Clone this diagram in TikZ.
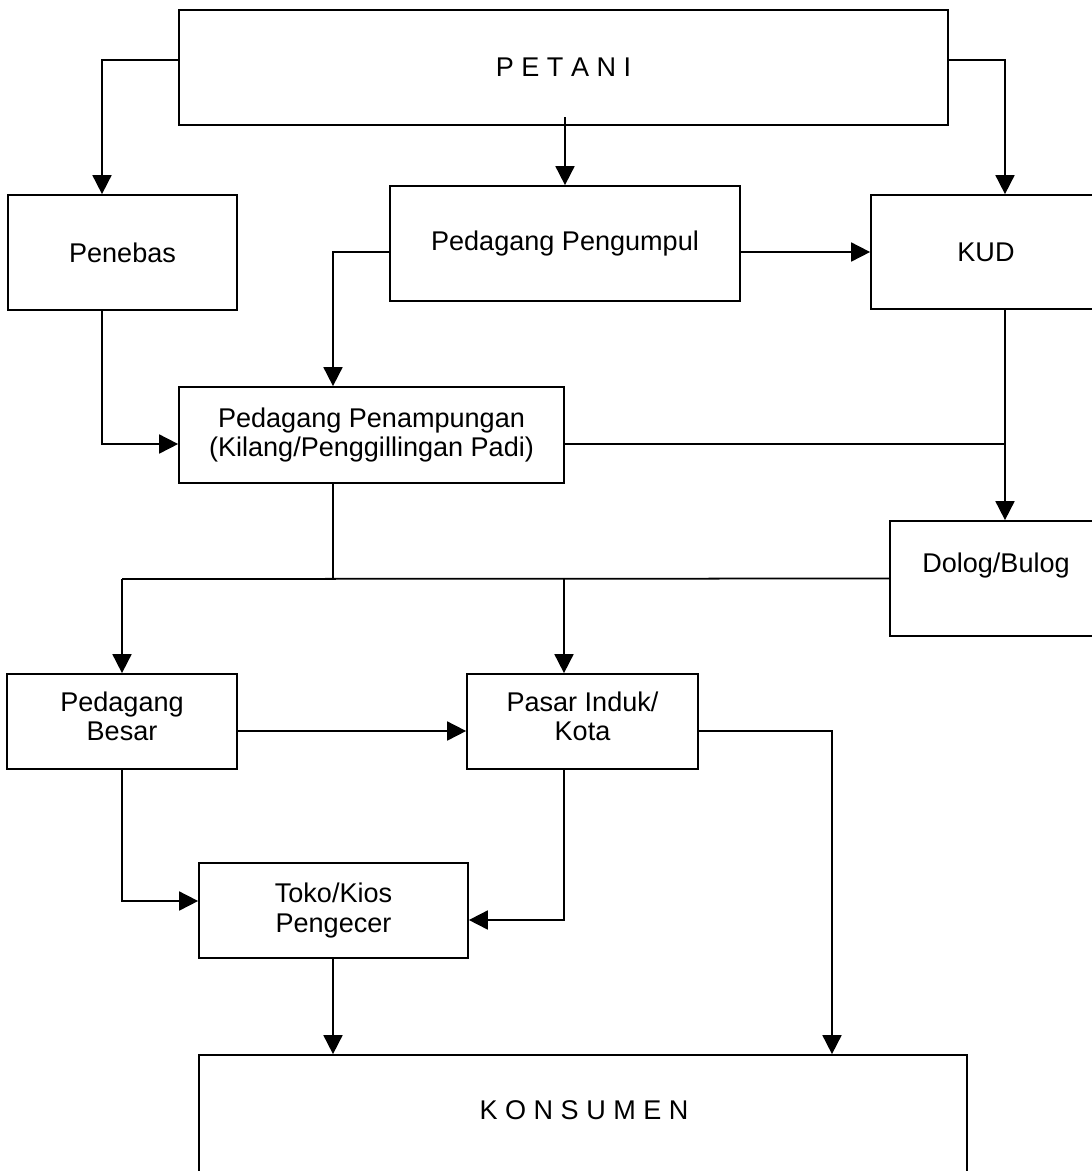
\documentclass[tikz,border=0pt]{standalone}
\usepackage{fontspec}
\setmainfont{Liberation Sans}
\usetikzlibrary{arrows.meta}
\usetikzlibrary{positioning}
\usetikzlibrary{calc}

\begin{document}
\begin{tikzpicture}[->,>={Triangle[length=0.38cm,width=0.38cm]},line width=1pt,
		x=0.02cm,y=-0.02cm,font=\fontsize{15.4}{16.6}\selectfont]
		\tikzstyle{box}=[draw,rectangle,inner sep=0pt,align=center]
		\tikzstyle{line}=[-]
		
		\useasboundingbox (0,0) rectangle (1092,1171);
		
		\node[box,minimum width=15.38cm,minimum height=2.3cm]  (petani)  at (563.5,67.5)  {P E T A N I};
		\node[box,minimum width=4.58cm,minimum height=2.3cm]   (penebas) at (122.5,252.5) {Penebas};
		\node[box,minimum width=7cm,minimum height=2.3cm]      (pengumpul) at (565,243.5) {Pedagang Pengumpul};
		\node[box,minimum width=4.6cm,minimum height=2.28cm]   (kud)     at (986,252)     {KUD};
		\node[box,minimum width=7.7cm,minimum height=1.92cm]   (penampungan) at (371.5,435) {Pedagang Penampungan\\(Kilang/Penggillingan Padi)};
		\node[box,minimum width=4.24cm,minimum height=2.3cm]   (dolog)   at (996,578.5)   {};
		\node                                                  (dologtext) at (996,565)   {Dolog/Bulog};
		\node[box,minimum width=4.6cm,minimum height=1.9cm]    (besar)   at (122,721.5)   {};
		\node[align=center]                                    (besartext) at (122,716)   {Pedagang\\Besar};
		\node[box,minimum width=4.62cm,minimum height=1.9cm]   (pasar)   at (582.5,721.5) {};
		\node[align=center]                                    (pasartext) at (582.5,716) {Pasar Induk/\\Kota};
		\node[box,minimum width=5.38cm,minimum height=1.9cm]   (toko)    at (333.5,910.5) {Toko/Kios\\Pengecer};
		\node[box,minimum width=15.36cm,minimum height=2.4cm]  (konsumen) at (583,1115)   {};
		\node                                                  (konsumentext) at (584,1110) {K O N S U M E N};
		
		\coordinate (kudjoin) at (1005,444);
		\coordinate (split)   at (333,579);
		
		% dari petani
		\draw (petani.west |- 0,60) -| (102,0 |- penebas.north);
		\draw (petani.east |- 0,60) -| (1005,0 |- kud.north);
		\draw (pengumpul.north |- 0,117) -- (pengumpul.north);
		
		\draw (pengumpul.east |- 0,252) -- (kud.west |- 0,252);
		\draw (pengumpul.west |- 0,252) -| (333,0 |- penampungan.north);
		\draw (102,0 |- penebas.south) |- (penampungan.west |- 0,444);
		\draw[line] (penampungan.east |- 0,444) -- (kudjoin);
		\draw (1005,0 |- kud.south) -- (1005,0 |- dolog.north);
		
		% ke pedagang besar dan pasar induk
		\draw[line] (penampungan.south -| split) -- (split);
		\draw[line] (122,579) -- (dolog.west);
		\draw (122,579) -- (besar.north);
		\draw (564,579) -- (564,0 |- pasar.north);
		
		\draw (besar.east |- 0,731) -- (pasar.west |- 0,731);
		\draw (pasar.east |- 0,731) -| (832,0 |- konsumen.north);
		\draw (besar.south) |- (toko.west |- 0,901);
		\draw (564,0 |- pasar.south) |- (toko.east |- 0,920);
		\draw (333,0 |- toko.south) -- (333,0 |- konsumen.north);
		
		;
\end{tikzpicture}
\end{document}
